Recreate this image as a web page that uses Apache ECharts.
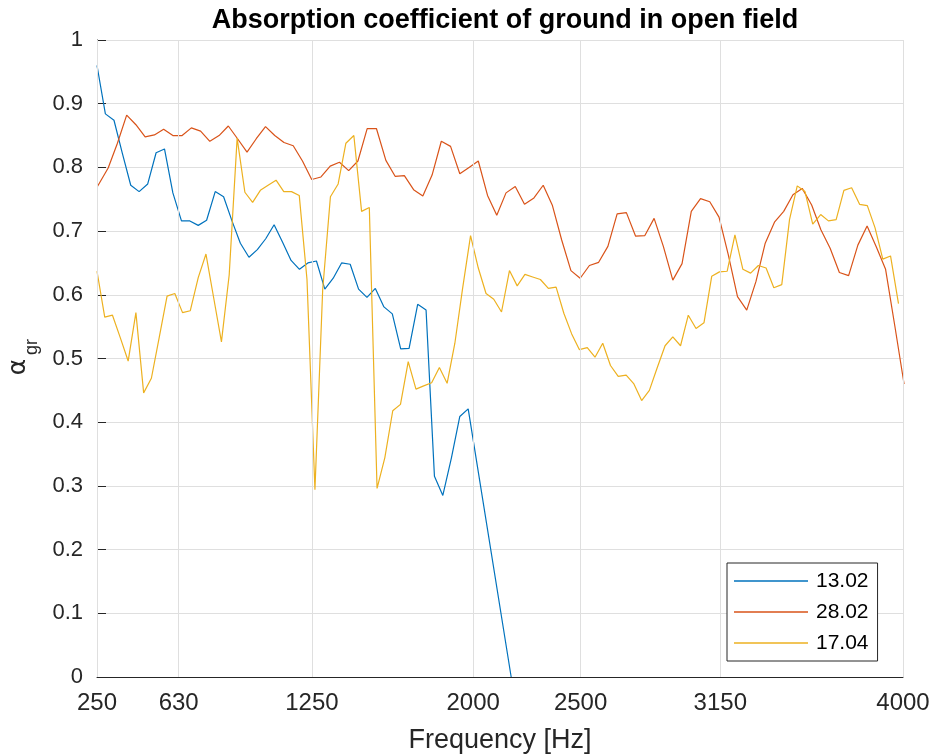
<!DOCTYPE html>
<html><head><meta charset="utf-8">
<script src="https://cdn.jsdelivr.net/npm/echarts@6/dist/echarts.min.js"></script>
<style>html,body{margin:0;padding:0;background:#fff}#c{width:932px;height:755px}</style>
</head><body><div id="c"></div>
<script>
// tick labels
const xTicks = [250, 630, 1250, 2000, 2500, 3150, 4000];
const seriesNames = ['13.02', '28.02', '17.04'];

// 13.02 (blue)
const freq1302 = [250,289,329,368,407,446,486,525,564,603,643,682,721,760,800,839,878,917,957,996,1035,1074,1114,1153,1192,1231,1271,1310,1349,1388,1428,1467,1506,1545,1585,1624,1663,1702,1742,1781,1820,1859,1899,1938,1977,2177];
const alpha1302 = [0.960,0.884,0.874,0.822,0.772,0.762,0.774,0.823,0.829,0.760,0.716,0.716,0.709,0.717,0.762,0.754,0.716,0.681,0.659,0.671,0.688,0.710,0.682,0.654,0.640,0.650,0.653,0.609,0.626,0.650,0.648,0.609,0.596,0.610,0.581,0.570,0.515,0.516,0.585,0.576,0.315,0.285,0.344,0.409,0.421,0];

// 28.02 (orange)
const freq2802 = [252,302,345,388,431,474,517,560,603,646,689,732,775,818,861,904,948,991,1034,1077,1120,1163,1206,1249,1292,1335,1378,1421,1464,1507,1550,1594,1637,1680,1723,1766,1809,1852,1895,1938,1981,2024,2067,2110,2153,2196,2239,2283,2326,2369,2412,2455,2498,2541,2584,2627,2670,2713,2756,2799,2842,2885,2929,2972,3015,3058,3101,3144,3187,3230,3273,3316,3359,3402,3445,3488,3531,3575,3618,3661,3704,3747,3790,3833,3876,3919,3962,4005];
const alpha2802 = [0.770,0.799,0.838,0.882,0.867,0.848,0.851,0.860,0.850,0.850,0.862,0.857,0.841,0.850,0.865,0.845,0.824,0.845,0.864,0.850,0.839,0.834,0.810,0.781,0.785,0.802,0.808,0.795,0.810,0.861,0.861,0.811,0.786,0.787,0.765,0.755,0.788,0.841,0.833,0.790,0.800,0.810,0.756,0.725,0.760,0.770,0.742,0.752,0.772,0.740,0.686,0.638,0.626,0.646,0.651,0.676,0.727,0.729,0.692,0.693,0.720,0.676,0.623,0.649,0.731,0.751,0.746,0.722,0.663,0.597,0.576,0.621,0.681,0.714,0.731,0.757,0.767,0.741,0.702,0.673,0.635,0.630,0.678,0.708,0.675,0.640,0.551,0.460];

// 17.04 (yellow)
const freq1704 = [250,286,322,359,395,431,467,503,540,576,612,648,684,721,757,793,829,865,902,938,974,1010,1046,1083,1119,1155,1191,1227,1264,1300,1336,1372,1408,1445,1481,1517,1553,1589,1626,1662,1698,1734,1770,1807,1843,1879,1915,1951,1988,2024,2060,2096,2132,2169,2205,2241,2277,2313,2350,2386,2422,2458,2494,2531,2567,2603,2639,2675,2712,2748,2784,2820,2856,2893,2929,2965,3001,3037,3074,3110,3146,3182,3218,3255,3291,3327,3363,3399,3436,3472,3508,3544,3580,3617,3653,3689,3725,3761,3798,3834,3870,3906,3942,3979];
const alpha1704 = [0.637,0.565,0.568,0.532,0.496,0.572,0.446,0.469,0.534,0.598,
0.602,0.572,0.575,0.627,0.664,0.595,0.526,0.631,0.846,0.761,
0.745,0.764,0.772,0.780,0.762,0.762,0.756,0.624,0.294,0.608,
0.754,0.774,0.838,0.850,0.731,0.737,0.296,0.344,0.418,0.428,
0.495,0.452,0.457,0.462,0.486,0.461,0.524,0.610,0.693,0.642,
0.602,0.593,0.573,0.638,0.614,0.632,0.628,0.624,0.610,0.612,
0.571,0.539,0.514,0.517,0.502,0.524,0.489,0.472,0.474,0.460,
0.434,0.450,0.485,0.520,0.534,0.520,0.568,0.547,0.556,0.629,
0.636,0.637,0.694,0.640,0.634,0.646,0.642,0.611,0.616,0.718,
0.771,0.762,0.711,0.726,0.716,0.718,0.764,0.768,0.742,0.740,
0.705,0.656,0.661,0.586];

const FONT = "'Liberation Sans', Arial, Helvetica, sans-serif";
const AX = '#262626';
const GRIDC = '#dfdfdf';
const COLORS = ['#0072BD', '#D95319', '#EDB120'];

function pairs(xs, ys) { return xs.map((x, i) => [x, ys[i]]); }
function lineSeries(name, xs, ys, color) {
  return {
    name: name, type: 'line', data: pairs(xs, ys), showSymbol: false, symbol: 'none',
    clip: true, z: 3,
    lineStyle: { color: color, width: 1.2 }, itemStyle: { color: color }
  };
}

const chart = echarts.init(document.getElementById('c'), null, { renderer: 'canvas' });
chart.setOption({
  animation: false,
  backgroundColor: '#fff',
  title: {
    text: 'Absorption coefficient of ground in open field',
    left: 500, top: 2, textAlign: 'center',
    textStyle: { fontFamily: FONT, fontSize: 27, fontWeight: 'bold', color: '#000' }
  },
  grid: { left: 97, right: 29, top: 40, bottom: 78, containLabel: false, outerBoundsMode: 'none' },
  xAxis: {
    type: 'value', min: 250, max: 4000,
    axisLine: { show: true, lineStyle: { color: AX, width: 1 } },
    axisTick: { show: true, inside: true, length: 9, customValues: xTicks, lineStyle: { color: AX } },
    axisLabel: { customValues: xTicks, fontFamily: FONT, fontSize: 24, color: AX, margin: 14,
      formatter: v => String(v) },
    splitLine: { show: false },
    name: 'Frequency [Hz]', nameLocation: 'middle', nameGap: 50,
    nameTextStyle: { fontFamily: FONT, fontSize: 27, color: AX }
  },
  yAxis: {
    type: 'value', min: 0, max: 1, interval: 0.1,
    axisLine: { show: true, lineStyle: { color: AX, width: 1 } },
    axisTick: { show: true, inside: true, length: 9, lineStyle: { color: AX } },
    axisLabel: { fontFamily: FONT, fontSize: 22, color: AX, margin: 14,
      formatter: v => String(+v.toFixed(1)) },
    splitLine: { show: true, lineStyle: { color: GRIDC, width: 1 } }
  },
  legend: {
    orient: 'vertical', left: 727, top: 563,
    padding: [6, 9, 6, 7], itemGap: 7, itemWidth: 74, itemHeight: 1.4,
    icon: 'rect',
    backgroundColor: '#fff', borderColor: AX, borderWidth: 1, borderRadius: 0,
    textStyle: { fontFamily: FONT, fontSize: 21, color: '#000', lineHeight: 24, padding: [0, 0, 0, 3] },
    data: seriesNames
  },
  graphic: [
    { type: 'text', x: 18, y: 367, rotation: Math.PI / 2,
      style: { text: 'α', font: "25px 'DejaVu Sans', sans-serif", fill: AX, align: 'center', verticalAlign: 'middle' } },
    { type: 'text', x: 32, y: 347, rotation: Math.PI / 2,
      style: { text: 'gr', font: "18px 'Liberation Sans', Arial, sans-serif", fill: AX, align: 'center', verticalAlign: 'middle' } }
  ],
  series: [
    { type: 'line', data: [], z: 1, silent: true,
      markLine: { silent: true, symbol: ['none', 'none'], label: { show: false },
        lineStyle: { color: GRIDC, type: 'solid', width: 1 },
        data: xTicks.map(v => ({ xAxis: v })) } },
    lineSeries(seriesNames[0], freq1302, alpha1302, COLORS[0]),
    lineSeries(seriesNames[1], freq2802, alpha2802, COLORS[1]),
    lineSeries(seriesNames[2], freq1704, alpha1704, COLORS[2])
  ]
});
</script></body></html>
